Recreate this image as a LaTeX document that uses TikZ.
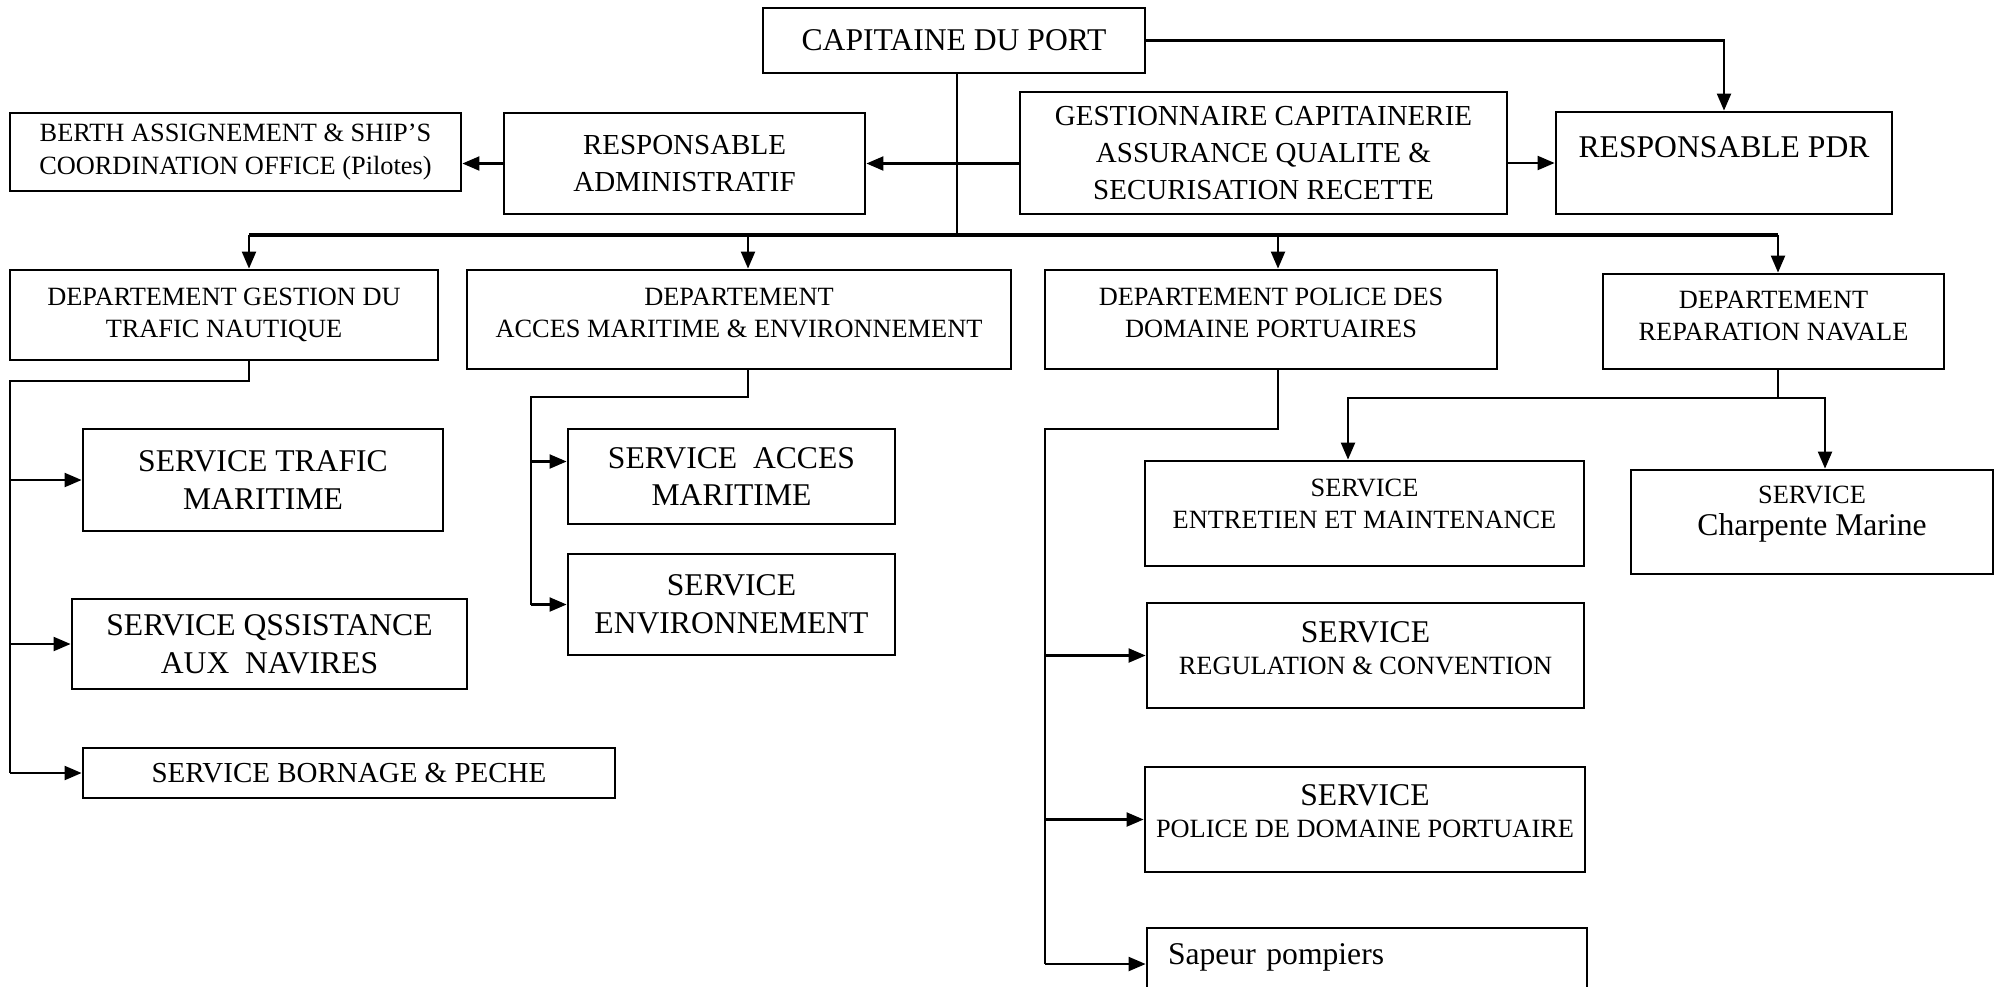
\documentclass[tikz,border=0pt]{standalone}
\usepackage{fontspec}
\setmainfont{Liberation Serif}
\usepackage{tikz}
\usetikzlibrary{arrows.meta}
\newcommand\sizeL{\fontsize{9}{10.8}\selectfont}
\newcommand\sizeM{\fontsize{8.25}{10.4}\selectfont}
\newcommand\sizeS{\fontsize{7.5}{9.2}\selectfont}

\begin{document}
\begin{tikzpicture}[
    x=0.1mm, y=-0.1mm,
    box/.style={
        rectangle,
        draw=black,
        line width=0.8pt,
        align=center,
        inner sep=2pt,
        font=\sizeS
    },
    big/.style={font=\sizeL},
    mid/.style={font=\sizeM},
    arrow/.style={
        -{Triangle[length=1.7mm,width=1.4mm]},
        line width=0.6pt
    },
    link/.style={line width=0.6pt},
    busline/.style={line width=0.9pt}
]

% Page frame
\useasboundingbox (0,0) rectangle (2005,986);
\clip (0,0) rectangle (2005,986);

% Top level
\node[box, big, minimum width=38.2mm, minimum height=6.5mm] (cap) at (954,40.5) {CAPITAINE DU PORT};
\node[box, minimum width=45.1mm, minimum height=7.8mm] (berth) at (235.5,152) {BERTH ASSIGNEMENT \& SHIP’S\\COORDINATION OFFICE (Pilotes)};
\node[box, mid, minimum width=36.1mm, minimum height=10.1mm] (admin) at (684.5,163.5) {RESPONSABLE\\ADMINISTRATIF};
\node[box, mid, minimum width=48.7mm, minimum height=12.2mm] (gest) at (1263.5,153) {GESTIONNAIRE CAPITAINERIE\\ASSURANCE QUALITE \&\\SECURISATION RECETTE};
\node[box, big, minimum width=33.6mm, minimum height=10.2mm, text depth=3.2mm] (pdr) at (1724,163) {RESPONSABLE PDR};

% Departments
\node[box, minimum width=42.8mm, minimum height=9mm] (dgtn) at (224,315) {DEPARTEMENT GESTION DU\\TRAFIC NAUTIQUE};
\node[box, minimum width=54.4mm, minimum height=9.9mm, text depth=1.4mm] (dame) at (739,319.5) {DEPARTEMENT\\ACCES MARITIME \& ENVIRONNEMENT};
\node[box, minimum width=45.2mm, minimum height=9.9mm, text depth=1.4mm] (dpdp) at (1271,319.5) {DEPARTEMENT POLICE DES\\DOMAINE PORTUAIRES};
\node[box, minimum width=34.1mm, minimum height=9.5mm, text depth=1.1mm] (drn) at (1773.5,321.5) {DEPARTEMENT\\REPARATION NAVALE};

% Services
\node[box, big, minimum width=36mm, minimum height=10.2mm] (stm) at (263,480) {SERVICE TRAFIC\\MARITIME};
\node[box, big, minimum width=39.5mm, minimum height=9mm] (san) at (269.5,644) {SERVICE QSSISTANCE\\AUX~~NAVIRES};
\node[box, mid, minimum width=53.2mm, minimum height=5mm] (sbp) at (349,773) {SERVICE BORNAGE \& PECHE};
\node[box, big, minimum width=32.7mm, minimum height=9.5mm] (sam) at (731.5,476.5) {SERVICE~~ACCES\\MARITIME};
\node[box, big, minimum width=32.7mm, minimum height=10.1mm] (senv) at (731.5,604.5) {SERVICE\\ENVIRONNEMENT};
\node[box, minimum width=43.9mm, minimum height=10.5mm, text depth=2mm] (sem) at (1364.5,513.5) {SERVICE\\ENTRETIEN ET MAINTENANCE};
\node[box, minimum width=36.2mm, minimum height=10.4mm, text depth=2.2mm] (scm) at (1812,522) {SERVICE\\{\sizeL Charpente Marine}};
\node[box, minimum width=43.7mm, minimum height=10.5mm, text depth=1.5mm] (src) at (1365.5,655.5) {{\sizeL SERVICE}\\REGULATION \& CONVENTION};
\node[box, minimum width=44mm, minimum height=10.5mm, text depth=1.7mm] (spdp) at (1365,819.5) {{\sizeL SERVICE}\\POLICE DE DOMAINE PORTUAIRE};
\node[box, big, minimum height=7.2mm, text width=39.8mm, align=left, inner xsep=2.1mm, text depth=2mm] (ssp) at (1367,964) {Sapeur pompiers};

% Main bus
\coordinate (bus) at (957,235);
\coordinate (b1) at (249,235);
\coordinate (b2) at (748,235);
\coordinate (b3) at (1278,235);
\coordinate (b4) at (1778,235);
\draw[link] (cap.south -| bus) -- (bus);
\draw[busline] (b1) -- (b4);
\foreach \b/\d in {b1/dgtn, b2/dame, b3/dpdp, b4/drn}
    \draw[arrow] (\b) -- (\b |- \d.north);

% Top links
\draw[arrow] (cap.east) -| (pdr.north);
\draw[arrow] (gest.west |- admin.east) -- (admin.east);
\draw[arrow] (admin.west) -- (admin.west -| berth.east);
\draw[arrow] (gest.east |- pdr.west) -- (pdr.west);

% Trafic nautique
\coordinate (s1) at (10,381);
\draw[link] (b1 |- dgtn.south) |- (s1) -- (s1 |- sbp.west);
\foreach \s in {stm, san, sbp}
    \draw[arrow] (s1 |- \s.west) -- (\s.west);

% Acces maritime
\coordinate (s2) at (531,397);
\coordinate (a2) at ([yshift=1.5mm]sam.west);
\draw[link] (b2 |- dame.south) |- (s2) -- (s2 |- senv.west);
\draw[arrow] (s2 |- a2) -- (a2);
\draw[arrow] (s2 |- senv.west) -- (senv.west);

% Police des domaines
\coordinate (s3) at (1045,429);
\draw[link] (b3 |- dpdp.south) |- (s3) -- (s3 |- ssp.west);
\foreach \s in {src, spdp, ssp}
    \draw[arrow] (s3 |- \s.west) -- (\s.west);

% Reparation navale
\coordinate (s4) at (1778,398);
\coordinate (e1) at (1348,398);
\coordinate (e2) at (1825,398);
\draw[link] (b4 |- drn.south) -- (s4);
\draw[arrow] (s4) -| (sem.north -| e1);
\draw[arrow] (s4) -| (scm.north -| e2);

\end{tikzpicture}
\end{document}
